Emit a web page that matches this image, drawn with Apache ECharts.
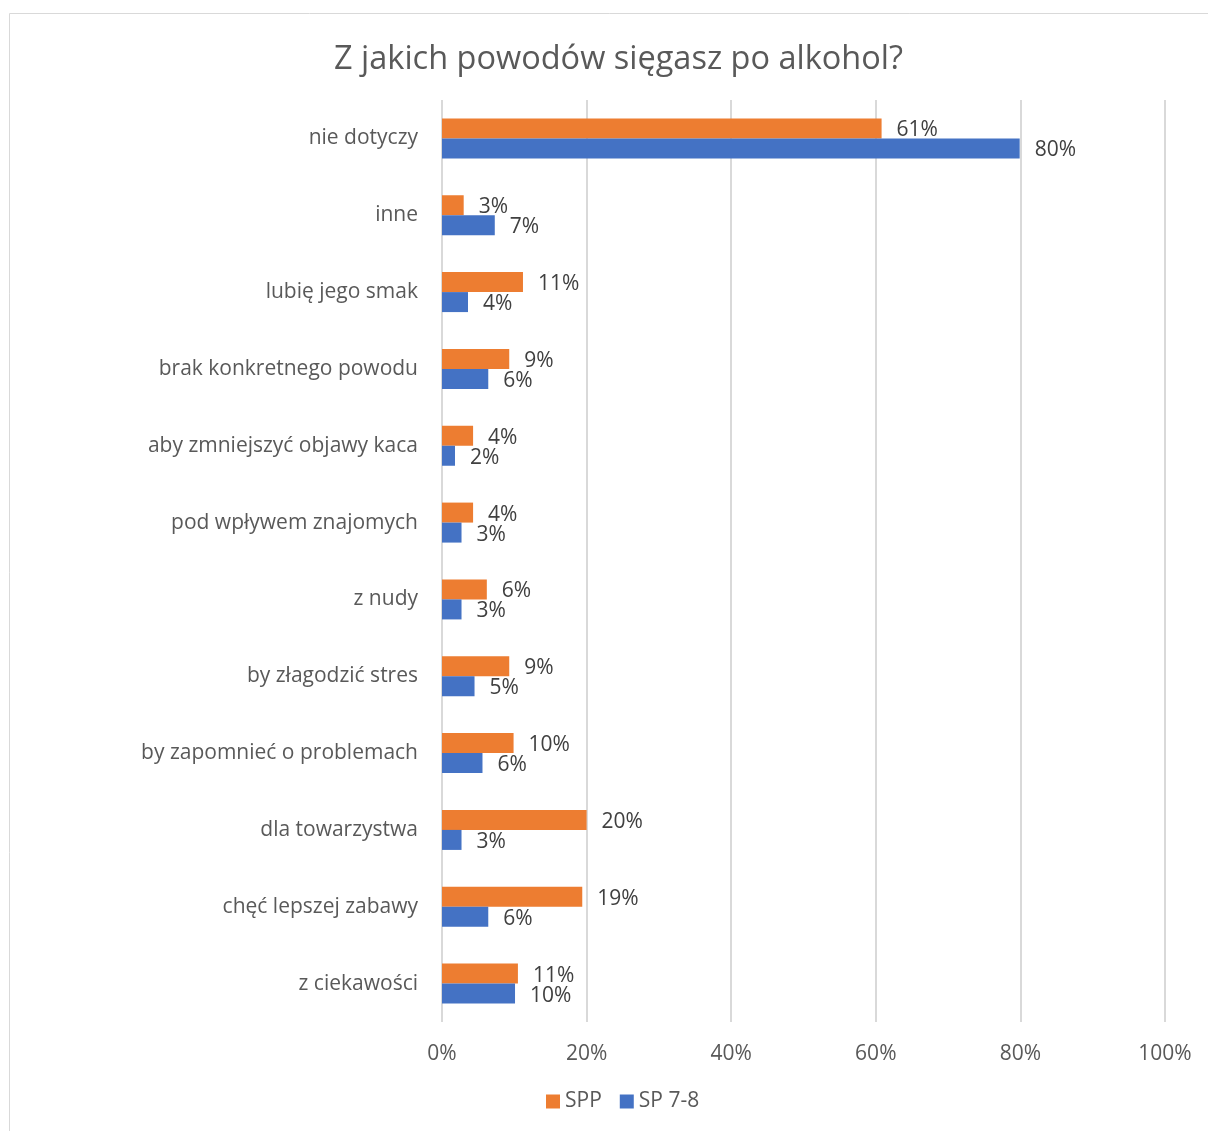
<!DOCTYPE html>
<html>
<head>
<meta charset="utf-8" />
<script src="https://cdn.jsdelivr.net/npm/echarts@6/dist/echarts.min.js"></script>
<style>
  html, body { margin: 0; padding: 0; background: #fff; }
  #chart { width: 1208px; height: 1131px; }
</style>
</head>
<body>
<div id="chart"></div>
<script>
// categories, bottom to top as drawn on the category axis
const categories = [
  "z ciekawości",
  "chęć lepszej zabawy",
  "dla towarzystwa",
  "by zapomnieć o problemach",
  "by złagodzić stres",
  "z nudy",
  "pod wpływem znajomych",
  "aby zmniejszyć objawy kaca",
  "brak konkretnego powodu",
  "lubię jego smak",
  "inne",
  "nie dotyczy",
];
const sppValues = [0.105, 0.194, 0.2, 0.099, 0.093, 0.062, 0.043, 0.043, 0.093, 0.112, 0.03, 0.608];
const sp78Values = [0.101, 0.064, 0.027, 0.056, 0.045, 0.027, 0.027, 0.018, 0.064, 0.036, 0.073, 0.799];
const xTicks = [0, 0.2, 0.4, 0.6, 0.8, 1];

const textColor = "#595959";
const font = "'Open Sans', 'Noto Sans', sans-serif";

const chart = echarts.init(document.getElementById("chart"));

const pct = (v) => Math.round(v * 100) + "%";

const valueLabel = {
  show: true,
  position: "right",
  distance: 15,
  offset: [0, 2],
  color: "#404040",
  fontSize: 21,
  formatter: (p) => pct(p.value),
};

chart.setOption({
  animation: false,
  textStyle: { fontFamily: font },
  title: {
    text: "Z jakich powodów sięgasz po alkohol?",
    left: 329,
    top: 38,
    textStyle: { color: textColor, fontSize: 32.5, fontWeight: "normal", fontFamily: font },
  },
  graphic: [
    {
      type: "rect",
      shape: { x: 9.5, y: 13.5, width: 1400, height: 1400 },
      style: { fill: "none", stroke: "#d9d9d9", lineWidth: 1 },
      silent: true,
    },
  ],
  legend: {
    bottom: 14,
    left: 541,
    itemWidth: 14,
    itemHeight: 14,
    itemGap: 18,
    icon: "rect",
    textStyle: { color: textColor, fontSize: 21, fontFamily: font },
    data: ["SPP", "SP 7-8"],
  },
  grid: { left: 442, right: 43, top: 100, bottom: 109, containLabel: false },
  xAxis: {
    type: "value",
    min: 0,
    max: 1,
    interval: 0.2,
    axisLine: { show: false },
    axisTick: { show: false },
    axisLabel: {
      color: textColor,
      fontSize: 21,
      margin: 22,
      formatter: (v) => (xTicks.includes(Math.round(v * 10) / 10) ? pct(v) : ""),
    },
    splitLine: { lineStyle: { color: "#d9d9d9", width: 2 } },
  },
  yAxis: {
    type: "category",
    data: categories,
    axisLine: { show: false },
    axisTick: { show: false },
    axisLabel: { color: textColor, fontSize: 21, margin: 24, padding: [4, 0, 0, 0] },
  },
  series: [
    {
      name: "SPP",
      type: "bar",
      data: sppValues,
      barWidth: 20,
      barGap: "0%",
      itemStyle: { color: "#ED7D31" },
      label: valueLabel,
    },
    {
      name: "SP 7-8",
      type: "bar",
      data: sp78Values,
      barWidth: 20,
      barGap: "0%",
      itemStyle: { color: "#4472C4" },
      label: valueLabel,
    },
  ],
});

window.addEventListener("resize", () => chart.resize());
</script>
</body>
</html>
